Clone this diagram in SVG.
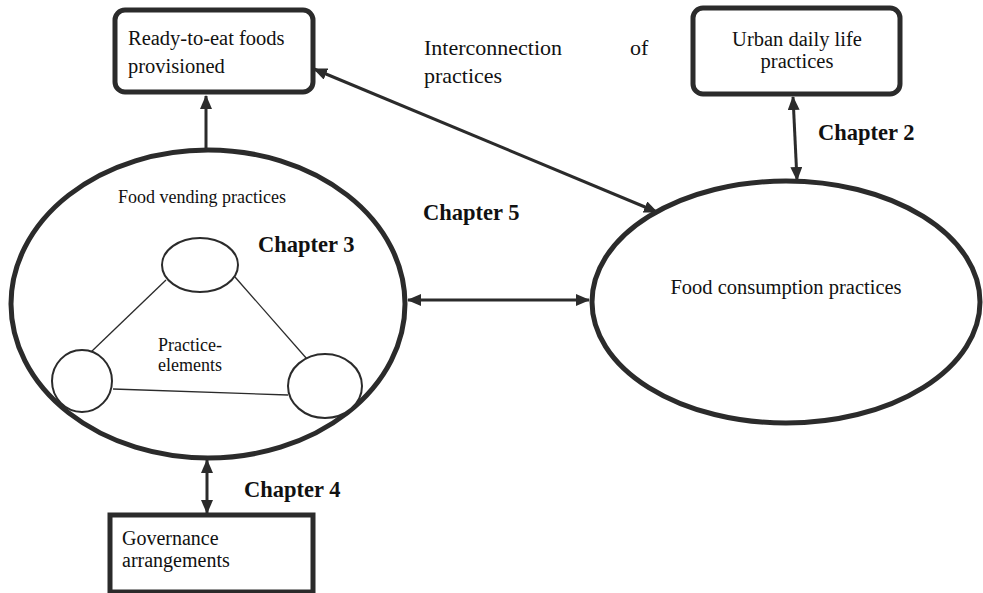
<svg xmlns="http://www.w3.org/2000/svg" width="983" height="593" viewBox="0 0 983 593">
<style>
.box{fill:#fff;stroke:#2b2b2b;stroke-width:5}
.big{fill:#fff;stroke:#2b2b2b;stroke-width:5}
.small{fill:#fff;stroke:#2b2b2b;stroke-width:2}
.thin{stroke:#2b2b2b;stroke-width:1.3;fill:none}
.conn{stroke:#2b2b2b;stroke-width:3;fill:none}
text{font-family:"Liberation Serif","Times New Roman",serif;fill:#111}
.b{font-weight:bold;font-size:22.5px}
</style>
<defs>
<marker id="ah" markerWidth="14" markerHeight="12" viewBox="0 0 14 12" refX="13" refY="6" orient="auto-start-reverse" markerUnits="userSpaceOnUse">
<path d="M0,0 L14,6 L0,12 Z" fill="#2b2b2b"/>
</marker>
</defs>
<rect width="983" height="593" fill="#fff"/>
<g id="connectors">
<line class="conn" x1="206" y1="150" x2="206" y2="96" marker-end="url(#ah)"/>
<line class="conn" x1="314" y1="69" x2="657" y2="212" marker-start="url(#ah)" marker-end="url(#ah)"/>
<line class="conn" x1="793" y1="97" x2="797" y2="180" marker-start="url(#ah)" marker-end="url(#ah)"/>
<line class="conn" x1="408" y1="300" x2="589" y2="300" marker-start="url(#ah)" marker-end="url(#ah)"/>
<line class="conn" x1="207" y1="460" x2="207" y2="513" marker-start="url(#ah)" marker-end="url(#ah)"/>
</g>
<g id="ready">
<rect class="box" x="115" y="10" width="198" height="82" rx="10"/>
<text x="128" y="45" font-size="20.5">Ready-to-eat foods</text>
<text x="128" y="73" font-size="20.5">provisioned</text>
</g>
<g id="urban">
<rect class="box" x="693" y="8" width="207" height="86" rx="10"/>
<text x="797" y="46" font-size="20.5" text-anchor="middle">Urban daily life</text>
<text x="797" y="68" font-size="20.5" text-anchor="middle">practices</text>
</g>
<g id="interconnection">
<text x="424" y="55" font-size="22">Interconnection</text>
<text x="630" y="55" font-size="22">of</text>
<text x="424" y="83" font-size="22">practices</text>
</g>
<g id="vending">
<ellipse class="big" cx="208" cy="304" rx="197" ry="154"/>
<text x="118" y="203" font-size="18">Food vending practices</text>
</g>
<g id="elements">
<line class="thin" x1="166" y1="280" x2="91" y2="352"/>
<line class="thin" x1="235" y1="277" x2="307" y2="359"/>
<line class="thin" x1="113" y1="389" x2="288" y2="395"/>
<ellipse class="small" cx="200" cy="265" rx="38" ry="27"/>
<ellipse class="small" cx="82" cy="381" rx="30" ry="31"/>
<ellipse class="small" cx="325" cy="386" rx="37" ry="32"/>
<text x="158" y="351" font-size="18">Practice-</text>
<text x="158" y="371" font-size="18">elements</text>
</g>
<g id="consumption">
<ellipse class="big" cx="786" cy="302" rx="194" ry="121"/>
<text x="786" y="294" font-size="20.5" text-anchor="middle">Food consumption practices</text>
</g>
<g id="governance">
<rect x="110" y="515" width="203" height="77" fill="#fff" stroke="#2b2b2b" stroke-width="5"/>
<text x="122" y="545" font-size="20">Governance</text>
<text x="122" y="567" font-size="20">arrangements</text>
</g>
<g id="labels">
<text class="b" x="258" y="252">Chapter 3</text>
<text class="b" x="423" y="220">Chapter 5</text>
<text class="b" x="818" y="140">Chapter 2</text>
<text class="b" x="244" y="497">Chapter 4</text>
</g>
</svg>
